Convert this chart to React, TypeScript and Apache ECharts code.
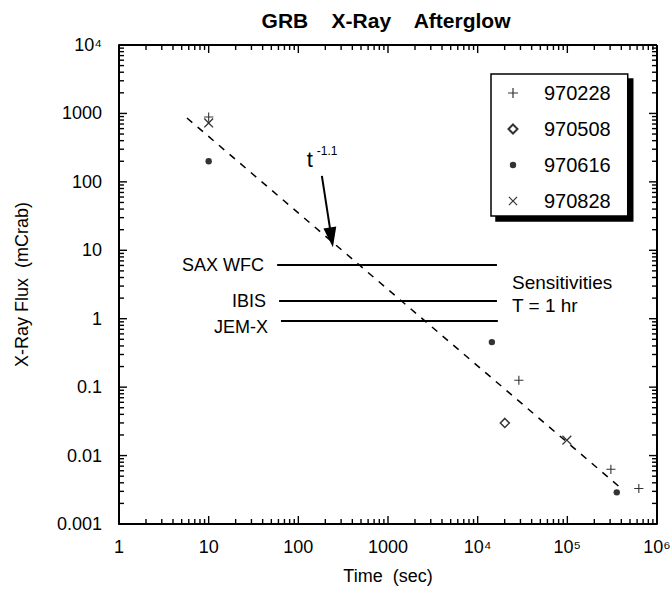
import React, { useEffect, useRef } from 'react';
import * as echarts from 'echarts';

const FONT = '"Liberation Sans", Arial, Helvetica, sans-serif';

// Tick labels
const xTickLabels = ['1', '10', '100', '1000', '10⁴', '10⁵', '10⁶'];
const yTickLabels = ['0.001', '0.01', '0.1', '1', '10', '100', '1000', '10⁴'];

// Bursts
const burstNames = ['970228', '970508', '970616', '970828'];
const grb970228Time = [10, 28800, 306000, 627000];
const grb970228Flux = [885, 0.126, 0.0063, 0.0033];
const grb970508Time = [20100];
const grb970508Flux = [0.03];
const grb970616Time = [10, 14400, 356000];
const grb970616Flux = [200, 0.455, 0.0029];
const grb970828Time = [10, 98800];
const grb970828Flux = [725, 0.0168];

// t^-1.1 decay line
const fitTime = [5.73, 385000];
const fitFlux = [857, 0.00345];

// Instrument sensitivities (T = 1 hr)
const sensNames = ['SAX WFC', 'IBIS', 'JEM-X'];
const sensFlux = [6.1, 1.8, 0.93];
const sensStart = [58, 61, 64];
const sensEnd = [16400, 16400, 16800];

// annotation arrow (tail, tip)
const arrowTime = [183, 243];
const arrowFlux = [122, 11.1];

// axis ranges
const X_MIN = 1;
const X_MAX = 1e6;
const Y_MIN = 0.001;
const Y_MAX = 1e4;

const PLUS = 'path://M0,0M12,12M5.4,1H6.6V5.4H11V6.6H6.6V11H5.4V6.6H1V5.4H5.4Z';
const CROSS =
  'path://M0,0M12,12M1.5,2.35L2.35,1.5L6,5.15L9.65,1.5L10.5,2.35L6.85,6L10.5,9.65L9.65,10.5L6,6.85L2.35,10.5L1.5,9.65L5.15,6Z';
const DIAMOND = 'path://M0,0M12,12M6,1.5L10.5,6L6,10.5L1.5,6Z';
const DOT = 'path://M0,0M12,12M6,2.8A3.2,3.2,0,1,1,6,9.2A3.2,3.2,0,1,1,6,2.8Z';

const pairs = (t: number[], f: number[]) => t.map((v, i) => [v, f[i]]);

// log-axis tick marks (1..9 x 10^d) on all four sides: [x, y, side, major]
const buildTicks = () => {
  const out: number[][] = [];
  const decadeTicks = (lo: number, hi: number) => {
    const vals: [number, number][] = [];
    for (let d = lo; d <= hi; d++) {
      for (let k = 1; k <= 9; k++) {
        if (d === hi && k > 1) break;
        vals.push([Number((k * Math.pow(10, d)).toPrecision(6)), k === 1 ? 1 : 0]);
      }
    }
    return vals;
  };
  decadeTicks(0, 6).forEach(([v, m]) => {
    out.push([v, Y_MIN, 0, m]);
    out.push([v, Y_MAX, 1, m]);
  });
  decadeTicks(-3, 4).forEach(([v, m]) => {
    out.push([X_MIN, v, 2, m]);
    out.push([X_MAX, v, 3, m]);
  });
  return out;
};

export default function App() {
  const ref = useRef<HTMLDivElement>(null);

  useEffect(() => {
    const chart = echarts.init(ref.current!, null, { renderer: 'svg' });
    const black = '#000';
    const labelStyle = { color: black, fontSize: 18, fontFamily: FONT };

    const option: any = {
      animation: false,
      title: {
        text: 'GRB    X-Ray    Afterglow',
        left: 381,
        top: 5,
        textAlign: 'center',
        textStyle: { color: black, fontSize: 21, fontWeight: 'bold', fontFamily: FONT },
      },
      grid: {
        left: 119,
        right: 13,
        top: 45,
        bottom: 67,
        containLabel: false,
        outerBoundsMode: 'none',
      },
      legend: {
        data: burstNames,
        orient: 'vertical',
        left: 491,
        top: 74,
        itemWidth: 12,
        itemHeight: 12,
        itemGap: 16,
        padding: [9, 17, 5, 15],
        backgroundColor: '#fff',
        borderColor: black,
        borderWidth: 1.5,
        borderRadius: 0,
        shadowColor: black,
        shadowBlur: 0,
        shadowOffsetX: 5,
        shadowOffsetY: 5,
        selectedMode: false,
        textStyle: { color: black, fontSize: 20, fontFamily: FONT, lineHeight: 20, padding: [0, 0, 0, 20] },
      },
      xAxis: {
        type: 'log',
        min: X_MIN,
        max: X_MAX,
        position: 'bottom',
        axisLine: { show: true, onZero: false, lineStyle: { color: black, width: 2 } },
        axisTick: { show: false },
        minorTick: { show: false },
        splitLine: { show: false },
        axisLabel: {
          ...labelStyle,
          margin: 14,
          formatter: (v: number) => xTickLabels[Math.round(Math.log10(v))] ?? '',
        },
        name: 'Time  (sec)',
        nameLocation: 'middle',
        nameGap: 43,
        nameTextStyle: { color: black, fontSize: 18, fontFamily: FONT },
      },
      yAxis: {
        type: 'log',
        min: Y_MIN,
        max: Y_MAX,
        position: 'left',
        axisLine: { show: true, onZero: false, lineStyle: { color: black, width: 2 } },
        axisTick: { show: false },
        minorTick: { show: false },
        splitLine: { show: false },
        axisLabel: {
          ...labelStyle,
          margin: 17,
          formatter: (v: number) => yTickLabels[Math.round(Math.log10(v)) + 3] ?? '',
        },
        name: 'X-Ray Flux  (mCrab)',
        nameLocation: 'middle',
        nameGap: 88,
        nameTextStyle: { color: black, fontSize: 18, fontFamily: FONT },
      },
      series: [
        {
          name: 'fit',
          type: 'line',
          data: pairs(fitTime, fitFlux),
          symbol: 'none',
          silent: true,
          lineStyle: { color: black, width: 1.5, type: [7, 7] },
          markLine: {
            silent: true,
            symbol: ['none', 'none'],
            emphasis: { disabled: true },
            lineStyle: { color: black, width: 2, type: 'solid' },
            label: {
              show: true,
              position: 'start',
              distance: 13,
              color: black,
              fontSize: 18,
              fontFamily: FONT,
              formatter: (p: any) => (p.name === 'JEM-X' ? '{low|JEM-X}' : p.name),
              rich: { low: { fontSize: 18, fontFamily: FONT, color: black, padding: [13, 0, 0, 0] } },
            },
            data: sensNames.map((n, i) => [
              { name: n, coord: [sensStart[i], sensFlux[i]] },
              { coord: [sensEnd[i], sensFlux[i]] },
            ]),
          },
        },
        {
          name: '970228',
          type: 'scatter',
          symbol: PLUS,
          symbolSize: 11,
          itemStyle: { color: black },
          data: pairs(grb970228Time, grb970228Flux),
        },
        {
          name: '970508',
          type: 'scatter',
          symbol: DIAMOND,
          symbolSize: 12,
          itemStyle: { color: '#fff', borderColor: black, borderWidth: 1.5 },
          data: pairs(grb970508Time, grb970508Flux),
        },
        {
          name: '970616',
          type: 'scatter',
          symbol: DOT,
          symbolSize: 12,
          itemStyle: { color: black },
          data: pairs(grb970616Time, grb970616Flux),
        },
        {
          name: '970828',
          type: 'scatter',
          symbol: CROSS,
          symbolSize: 13,
          itemStyle: { color: black },
          data: pairs(grb970828Time, grb970828Flux),
        },
      ],
    };

    chart.setOption(option);

    const toPx = (x: number, y: number) => chart.convertToPixel({ seriesIndex: 0 }, [x, y]) as number[];

    // frame + ticks, positioned through the chart's own log scales
    const tl = toPx(X_MIN, Y_MAX);
    const br = toPx(X_MAX, Y_MIN);
    const frameAndTicks: any[] = [
      {
        type: 'line',
        silent: true,
        z: 50,
        shape: { x1: tl[0], y1: tl[1], x2: br[0], y2: tl[1] },
        style: { stroke: black, lineWidth: 2 },
      },
      {
        type: 'line',
        silent: true,
        z: 50,
        shape: { x1: br[0], y1: tl[1], x2: br[0], y2: br[1] },
        style: { stroke: black, lineWidth: 2 },
      },
    ];
    const dirs = [
      [0, -1],
      [0, 1],
      [1, 0],
      [-1, 0],
    ];
    buildTicks().forEach(([x, y, side, major]) => {
      const p = toPx(x, y);
      const L = major ? 8 : 5;
      const d = dirs[side];
      frameAndTicks.push({
        type: 'line',
        silent: true,
        z: 50,
        shape: { x1: p[0], y1: p[1], x2: p[0] + d[0] * L, y2: p[1] + d[1] * L },
        style: { stroke: black, lineWidth: 1.4 },
      });
    });

    const a = toPx(arrowTime[0], arrowFlux[0]);
    const b = toPx(arrowTime[1], arrowFlux[1]);
    const dx = b[0] - a[0];
    const dy = b[1] - a[1];
    const len = Math.hypot(dx, dy) || 1;
    const ux = dx / len;
    const uy = dy / len;
    const headLen = 20;
    const headHalf = 6.5;
    const bx = b[0] - ux * headLen;
    const by = b[1] - uy * headLen;

    chart.setOption({
      graphic: {
        elements: [
          ...frameAndTicks,
          {
            type: 'line',
            silent: true,
            shape: { x1: a[0], y1: a[1], x2: bx + ux * 2, y2: by + uy * 2 },
            style: { stroke: black, lineWidth: 2 },
          },
          {
            type: 'polygon',
            silent: true,
            shape: {
              points: [
                [b[0], b[1]],
                [bx - uy * headHalf, by + ux * headHalf],
                [bx + uy * headHalf, by - ux * headHalf],
              ],
            },
            style: { fill: black },
          },
          {
            type: 'text',
            silent: true,
            x: a[0] - 12,
            y: a[1] - 16,
            style: { text: 't', fill: black, fontSize: 22, fontFamily: FONT, align: 'center', verticalAlign: 'middle' },
          },
          {
            type: 'text',
            silent: true,
            x: a[0] - 5,
            y: a[1] - 25,
            style: { text: '-1.1', fill: black, fontSize: 12, fontFamily: FONT, align: 'left', verticalAlign: 'middle' },
          },
          {
            type: 'text',
            silent: true,
            x: 512,
            y: 282,
            style: { text: 'Sensitivities', fill: black, fontSize: 19, fontFamily: FONT, align: 'left', verticalAlign: 'middle' },
          },
          {
            type: 'text',
            silent: true,
            x: 512,
            y: 305,
            style: { text: 'T = 1 hr', fill: black, fontSize: 19, fontFamily: FONT, align: 'left', verticalAlign: 'middle' },
          },
        ],
      },
    });

    return () => chart.dispose();
  }, []);

  return (
    <div
      ref={ref}
      style={{ position: 'fixed', left: 0, top: 0, width: 670, height: 591, background: '#fff' }}
    />
  );
}
